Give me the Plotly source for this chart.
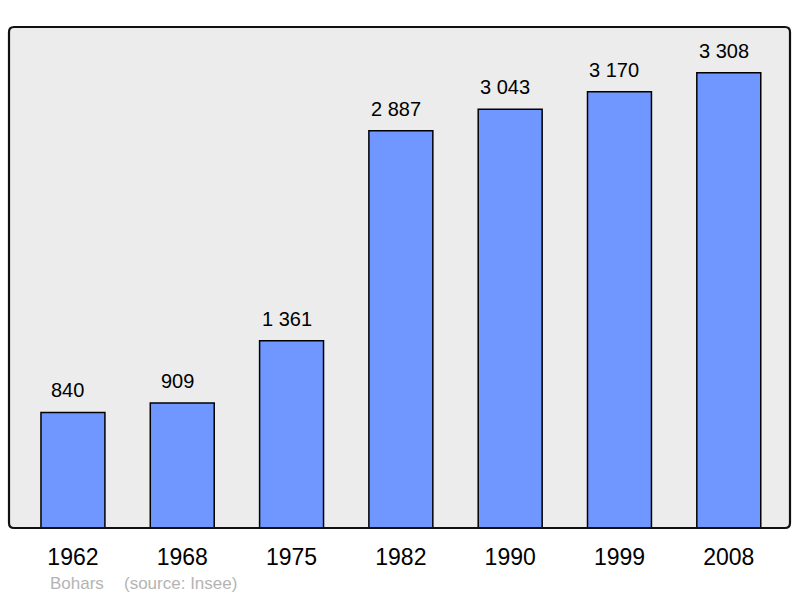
import plotly.graph_objects as go

years = ["1962", "1968", "1975", "1982", "1990", "1999", "2008"]
population = [840, 909, 1361, 2887, 3043, 3170, 3308]
commune = "Bohars"
source = "(source: Insee)"

FONT = "Liberation Sans, Arial, sans-serif"

def fmt(v):
    return f"{v:,}".replace(",", " ")

fig = go.Figure()
fig.add_trace(go.Bar(
    x=years, y=population,
    marker=dict(color="#7096ff", line=dict(color="#000000", width=1.5)),
    width=0.585,
    hoverinfo="skip",
))

for i, v in enumerate(population):
    fig.add_annotation(x=i, y=v, xref="x", yref="y", text=fmt(v), showarrow=False,
                       yanchor="bottom", yshift=9, xshift=-5,
                       font=dict(size=20, color="#000000", family=FONT))

src_y = -(583 - 528) / 501
fig.add_annotation(xref="paper", yref="paper", x=(48 - 9) / 781, y=src_y,
                   xanchor="left", yanchor="middle", showarrow=False, text=commune,
                   font=dict(size=17, color="#b4b4b4", family=FONT))
fig.add_annotation(xref="paper", yref="paper", x=(122 - 9) / 781, y=src_y,
                   xanchor="left", yanchor="middle", showarrow=False, text=source,
                   font=dict(size=17, color="#b4b4b4", family=FONT))

rx = 5 / 781
ry = 5 / 501
path = (f"M {rx},0 L {1-rx},0 Q 1,0 1,{ry} L 1,{1-ry} Q 1,1 {1-rx},1 "
        f"L {rx},1 Q 0,1 0,{1-ry} L 0,{ry} Q 0,0 {rx},0 Z")
fig.add_shape(type="path", xref="paper", yref="paper", path=path,
              line=dict(color="#111111", width=2.2), layer="above")

fig.update_layout(
    width=800, height=598,
    margin=dict(l=9, r=10, t=27, b=70),
    paper_bgcolor="#ffffff",
    plot_bgcolor="#ececec",
    showlegend=False,
    font=dict(family=FONT, color="#000000"),
    xaxis=dict(type="category", range=[-0.585, 6.56], showgrid=False, zeroline=False,
               showline=False, ticks="", tickfont=dict(size=23), ticklabelstandoff=13),
    yaxis=dict(range=[0, 3640], showgrid=False, zeroline=False, showline=False,
               showticklabels=False, ticks=""),
)

fig.write_html("out.html", config={"displayModeBar": False},
               post_script="document.body.style.margin='0';document.body.style.overflow='hidden';")
